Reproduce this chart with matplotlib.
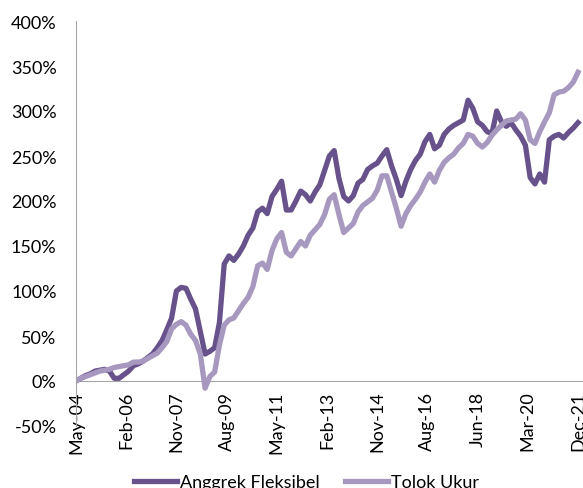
import numpy as np
import matplotlib
matplotlib.use("Agg")
import matplotlib.pyplot as plt
from matplotlib.ticker import FuncFormatter

plt.rcParams['font.family'] = ['Lato', 'DejaVu Sans']

# cumulative return (%), sampled every 2 months from May-04 to Dec-21
anggrek = [
    0, 3, 6, 8, 11, 12, 13, 11, 3, 3,
    7, 11, 17, 19, 22, 26, 30, 37, 45, 57,
    70, 100, 104, 103, 91, 80, 55, 30, 33, 37,
    65, 130, 139, 134, 141, 150, 162, 170, 188, 192,
    186, 205, 213, 222, 190, 190, 200, 211, 207, 200,
    210, 218, 234, 250, 256, 225, 205, 200, 206, 220,
    224, 235, 239, 242, 250, 257, 239, 224, 206, 222,
    235, 245, 252, 266, 274, 258, 262, 274, 280, 284,
    287, 290, 312, 303, 288, 284, 277, 275, 300, 288,
    283, 287, 279, 272, 262, 226, 219, 230, 221, 268,
    272, 274, 270, 276, 281, 287,
]
tolok_ukur = [
    0, 3, 5, 7, 9, 11, 12, 13, 15, 16,
    17, 18, 21, 21, 22, 25, 28, 31, 37, 44,
    58, 63, 66, 62, 52, 45, 30, -8, 5, 10,
    40, 62, 68, 70, 78, 86, 93, 105, 128, 131,
    124, 145, 158, 165, 143, 139, 147, 155, 150, 162,
    168, 174, 185, 202, 207, 185, 165, 170, 175, 188,
    195, 199, 203, 212, 228, 228, 210, 192, 172, 186,
    195, 202, 210, 221, 230, 221, 234, 243, 248, 252,
    259, 264, 274, 272, 264, 260, 265, 273, 279, 284,
    289, 290, 291, 297, 290, 268, 264, 277, 288, 298,
    318, 321, 322, 326, 332, 343,
]
months = np.arange(0, 211, 2)

tick_months = list(range(0, 211, 21))
tick_labels = ["May-04", "Feb-06", "Nov-07", "Aug-09", "May-11", "Feb-13",
               "Nov-14", "Aug-16", "Jun-18", "Mar-20", "Dec-21"]

dark = "#68528c"
light = "#a698bf"
grey = "#a6a6a6"

fig = plt.figure(figsize=(5.83, 4.89), dpi=100)
ax = fig.add_axes((76 / 583, 1 - 427 / 489, 507 / 583, 405 / 489))

# spine position first: it resets the ticks
ax.spines['top'].set_visible(False)
ax.spines['right'].set_visible(False)
ax.spines['bottom'].set_position(('data', 0))
ax.spines['bottom'].set_color(grey)
ax.spines['left'].set_color(grey)
ax.spines['bottom'].set_zorder(0)

ax.plot(months, anggrek, color=dark, lw=3.8, label="Anggrek Fleksibel",
        solid_joinstyle="round")
ax.plot(months, tolok_ukur, color=light, lw=3.8, label="Tolok Ukur",
        solid_joinstyle="round")

ax.set_xlim(0, 210 * 507 / 502)
ax.set_ylim(-50, 400)
ax.set_yticks(range(-50, 401, 50))
ax.yaxis.set_major_formatter(FuncFormatter(lambda v, p: f"{v:.0f}%"))

ax.set_xticks(tick_months)
ax.set_xticklabels(tick_labels, rotation=90, va="top", ha="center")

ax.tick_params(axis='both', length=0, labelsize=13, colors="#000000")
ax.tick_params(axis='x', pad=7)
ax.tick_params(axis='y', pad=14)

fig.legend(loc="center", bbox_to_anchor=(0.525, 0.012), ncol=2, frameon=False,
           fontsize=13, handlelength=2.4, handletextpad=0.15, columnspacing=1.4)

fig.savefig("out.png", dpi=100)
